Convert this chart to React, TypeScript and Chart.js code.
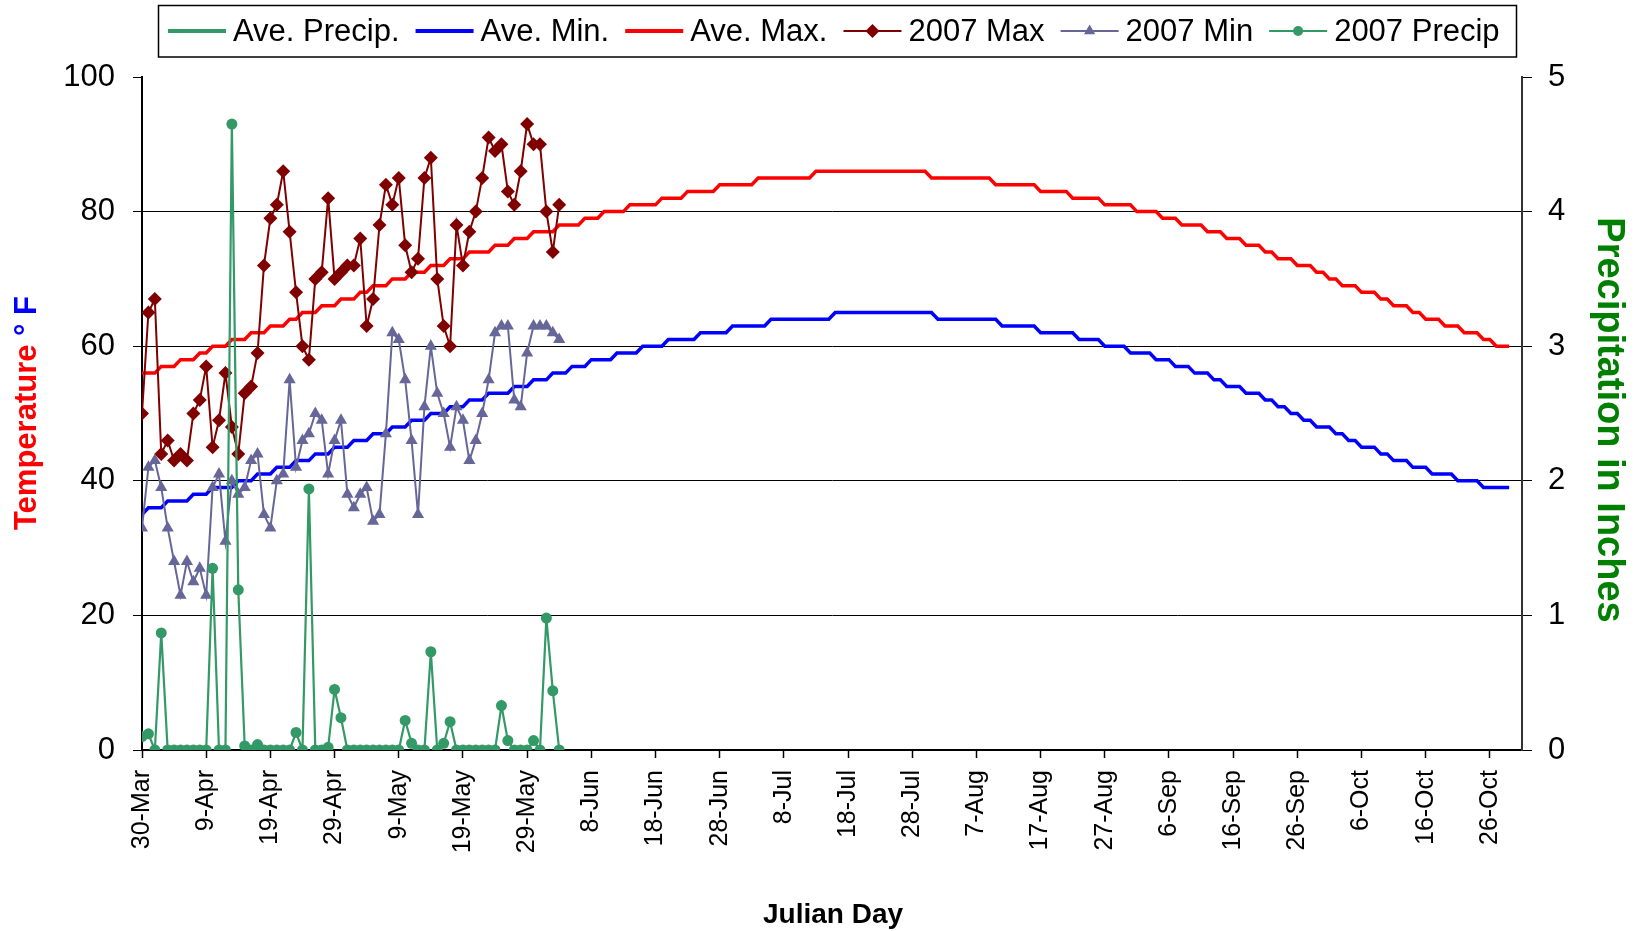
import React, { useEffect, useRef } from 'react';
import { Chart, registerables } from 'chart.js';

Chart.register(...registerables);

const FONT = "'Liberation Sans', Arial, sans-serif";

// x axis: day index 0 = 30-Mar, axis runs to day 215 (31-Oct)
const X_MAX_DAY = 215;
const TICK_LABELS = [
  '30-Mar', '9-Apr', '19-Apr', '29-Apr', '9-May', '19-May', '29-May', '8-Jun',
  '18-Jun', '28-Jun', '8-Jul', '18-Jul', '28-Jul', '7-Aug', '17-Aug', '27-Aug',
  '6-Sep', '16-Sep', '26-Sep', '6-Oct', '16-Oct', '26-Oct',
];

// Average curves read as [value °F, number of consecutive days]
const AVE_MAX_STEPS: [number, number][] = [
  [56, 3], [57, 3], [58, 3], [59, 2], [60, 3], [61, 3], [62, 3], [63, 3], [64, 2], [65, 3],
  [66, 3], [67, 3], [68, 2], [69, 3], [70, 3], [71, 3], [72, 3], [73, 3], [74, 4], [75, 3],
  [76, 3], [77, 4], [78, 4], [79, 3], [80, 4], [81, 5], [82, 4], [83, 5], [84, 6], [85, 9],
  [86, 18], [85, 10], [84, 7], [83, 5], [82, 5], [81, 5], [80, 4], [79, 3], [78, 4], [77, 3],
  [76, 3], [75, 3], [74, 2], [73, 3], [72, 3], [71, 2], [70, 2], [69, 3], [68, 3], [67, 2],
  [66, 3], [65, 2], [64, 3], [63, 3], [62, 3], [61, 2], [60, 3],
];

const AVE_MIN_STEPS: [number, number][] = [
  [35, 1], [36, 3], [37, 4], [38, 3], [39, 4], [40, 3], [41, 3], [42, 3], [43, 3], [44, 3],
  [45, 3], [46, 3], [47, 3], [48, 3], [49, 3], [50, 3], [51, 3], [52, 3], [53, 4], [54, 3],
  [55, 3], [56, 3], [57, 3], [58, 4], [59, 4], [60, 4], [61, 5], [62, 5], [63, 6], [64, 10],
  [65, 16], [64, 10], [63, 6], [62, 6], [61, 4], [60, 4], [59, 4], [58, 3], [57, 3], [56, 3],
  [55, 2], [54, 3], [53, 3], [52, 2], [51, 2], [50, 2], [49, 2], [48, 3], [47, 2], [46, 2],
  [45, 3], [44, 2], [43, 3], [42, 3], [41, 4], [40, 4], [39, 5],
];

const AVE_PRECIP: number[] = [];

const MAX_2007 = [
  50, 65, 67, 44, 46, 43, 44, 43, 50, 52, 57, 45, 49, 56, 48, 44, 53, 54, 59, 72,
  79, 81, 86, 77, 68, 60, 58, 70, 71, 82, 70, 71, 72, 72, 76, 63, 67, 78, 84, 81,
  85, 75, 71, 73, 85, 88, 70, 63, 60, 78, 72, 77, 80, 85, 91, 89, 90, 83, 81, 86,
  93, 90, 90, 80, 74, 81,
];

const MIN_2007 = [
  33, 42, 43, 39, 33, 28, 23, 28, 25, 27, 23, 39, 41, 31, 40, 38, 39, 43, 44, 35,
  33, 40, 41, 55, 42, 46, 47, 50, 49, 41, 46, 49, 38, 36, 38, 39, 34, 35, 47, 62,
  61, 55, 46, 35, 51, 60, 53, 50, 45, 51, 49, 43, 46, 50, 55, 62, 63, 63, 52, 51,
  59, 63, 63, 63, 62, 61,
];

const PRECIP_2007 = [
  0.10, 0.12, 0, 0.87, 0, 0, 0, 0, 0, 0, 0, 1.35, 0, 0, 4.65, 1.19, 0.03, 0, 0.04, 0,
  0, 0, 0, 0, 0.13, 0, 1.94, 0, 0, 0.02, 0.45, 0.24, 0, 0, 0, 0, 0, 0, 0, 0,
  0, 0.22, 0.05, 0, 0, 0.73, 0, 0.05, 0.21, 0, 0, 0, 0, 0, 0, 0, 0.33, 0.07, 0, 0,
  0, 0.07, 0, 0.98, 0.44, 0,
];

const C_PRECIP = '#339966';
const C_AMIN = '#0000FF';
const C_AMAX = '#FF0000';
const C_MAX07 = '#800000';
const C_MIN07 = '#666699';

const expandSteps = (steps: [number, number][]) =>
  steps.flatMap(([v, n]) => Array.from({ length: n }, () => v));
const toXY = (arr: number[]) => arr.map((y, x) => ({ x, y }));

type LegendItem = { label: string; color: string; width: number; marker: string | null; r: number };
const LEGEND: LegendItem[] = [
  { label: 'Ave. Precip.', color: C_PRECIP, width: 4, marker: null, r: 0 },
  { label: 'Ave. Min.', color: C_AMIN, width: 4, marker: null, r: 0 },
  { label: 'Ave. Max.', color: C_AMAX, width: 4, marker: null, r: 0 },
  { label: '2007 Max', color: C_MAX07, width: 2, marker: 'diamond', r: 7 },
  { label: '2007 Min', color: C_MIN07, width: 2, marker: 'triangle', r: 6.5 },
  { label: '2007 Precip', color: C_PRECIP, width: 2, marker: 'circle', r: 5 },
];

function drawMarker(ctx: CanvasRenderingContext2D, kind: string, x: number, y: number, r: number) {
  ctx.beginPath();
  if (kind === 'diamond') {
    ctx.moveTo(x - r, y); ctx.lineTo(x, y - r); ctx.lineTo(x + r, y); ctx.lineTo(x, y + r);
    ctx.closePath();
  } else if (kind === 'triangle') {
    ctx.moveTo(x, y - r); ctx.lineTo(x + 0.866 * r, y + 0.5 * r); ctx.lineTo(x - 0.866 * r, y + 0.5 * r);
    ctx.closePath();
  } else {
    ctx.arc(x, y, r, 0, Math.PI * 2);
  }
  ctx.fill();
}

const decorPlugin = {
  id: 'decor',
  afterDraw(chart: any) {
    const ctx: CanvasRenderingContext2D = chart.ctx;
    ctx.save();
    // Legend box
    ctx.fillStyle = '#ffffff';
    ctx.fillRect(158, 5, 1359, 52);
    ctx.strokeStyle = '#000000';
    ctx.lineWidth = 1.5;
    ctx.strokeRect(158.5, 5.5, 1358, 51.5);
    ctx.font = `31px ${FONT}`;
    ctx.textBaseline = 'middle';
    ctx.textAlign = 'left';
    let x = 168;
    const cy = 31;
    LEGEND.forEach((it) => {
      ctx.strokeStyle = it.color;
      ctx.lineWidth = it.width;
      ctx.beginPath();
      ctx.moveTo(x, cy);
      ctx.lineTo(x + 58, cy);
      ctx.stroke();
      if (it.marker) {
        ctx.fillStyle = it.color;
        drawMarker(ctx, it.marker, x + 29, cy, it.r);
      }
      x += 58 + 7;
      ctx.fillStyle = '#000000';
      ctx.fillText(it.label, x, cy + 1);
      x += ctx.measureText(it.label).width + 16;
    });

    // Left axis title (two colours)
    ctx.save();
    ctx.translate(36, 413);
    ctx.rotate(-Math.PI / 2);
    ctx.font = `bold 31px ${FONT}`;
    ctx.textBaseline = 'alphabetic';
    ctx.textAlign = 'left';
    const t1 = 'Temperature ';
    const t2 = '° F';
    const w1 = ctx.measureText(t1).width;
    const w2 = ctx.measureText(t2).width;
    const sx = -(w1 + w2) / 2;
    ctx.fillStyle = '#FF0000';
    ctx.fillText(t1, sx, 0);
    ctx.fillStyle = '#0000FF';
    ctx.fillText(t2, sx + w1, 0);
    ctx.restore();

    // Right axis title
    ctx.save();
    ctx.translate(1598, 420);
    ctx.rotate(Math.PI / 2);
    ctx.font = `bold 38px ${FONT}`;
    ctx.textBaseline = 'alphabetic';
    ctx.textAlign = 'center';
    ctx.fillStyle = '#008000';
    ctx.fillText('Precipitation in Inches', 0, 0);
    ctx.restore();

    // Bottom axis title
    ctx.font = `bold 28px ${FONT}`;
    ctx.textBaseline = 'alphabetic';
    ctx.textAlign = 'center';
    ctx.fillStyle = '#000000';
    ctx.fillText('Julian Day', 833, 923);
    ctx.restore();
  },
};

export default function App() {
  const canvasRef = useRef<HTMLCanvasElement | null>(null);

  useEffect(() => {
    document.body.style.margin = '0';
    const canvas = canvasRef.current;
    if (!canvas) return;
    const chart = new Chart(canvas, {
      type: 'line',
      data: {
        datasets: [
          {
            label: '2007 Precip', data: toXY(PRECIP_2007), yAxisID: 'y1',
            borderColor: C_PRECIP, backgroundColor: C_PRECIP, borderWidth: 2.2,
            pointStyle: 'circle', pointRadius: 5.5, pointBorderWidth: 0, tension: 0,
          },
          {
            label: '2007 Min', data: toXY(MIN_2007), yAxisID: 'y',
            borderColor: C_MIN07, backgroundColor: C_MIN07, borderWidth: 2,
            pointStyle: 'triangle', pointRadius: 7, pointBorderWidth: 0, tension: 0,
          },
          {
            label: '2007 Max', data: toXY(MAX_2007), yAxisID: 'y',
            borderColor: C_MAX07, backgroundColor: C_MAX07, borderWidth: 2,
            pointStyle: 'rectRot', pointRadius: 7, pointBorderWidth: 0, tension: 0,
          },
          {
            label: 'Ave. Max.', data: toXY(expandSteps(AVE_MAX_STEPS)), yAxisID: 'y',
            borderColor: C_AMAX, backgroundColor: C_AMAX, borderWidth: 3.5,
            pointRadius: 0, tension: 0,
          },
          {
            label: 'Ave. Min.', data: toXY(expandSteps(AVE_MIN_STEPS)), yAxisID: 'y',
            borderColor: C_AMIN, backgroundColor: C_AMIN, borderWidth: 3.5,
            pointRadius: 0, tension: 0,
          },
          {
            label: 'Ave. Precip.', data: toXY(AVE_PRECIP), yAxisID: 'y1',
            borderColor: C_PRECIP, backgroundColor: C_PRECIP, borderWidth: 3,
            pointRadius: 0, tension: 0,
          },
        ],
      },
      options: {
        responsive: false,
        animation: false,
        events: [],
        layout: { padding: { top: 77, left: 0, right: 0, bottom: 0 } },
        plugins: { legend: { display: false }, tooltip: { enabled: false } },
        scales: {
          x: {
            type: 'linear', min: 0, max: X_MAX_DAY,
            afterBuildTicks: (s: any) => {
              s.ticks = TICK_LABELS.map((_, i) => ({ value: i * 10 }));
            },
            afterFit: (s: any) => { s.height = 181; },
            ticks: {
              autoSkip: false, minRotation: 90, maxRotation: 90, padding: 12,
              color: '#000', font: { family: FONT, size: 25 },
              callback: (v: any) => TICK_LABELS[Math.round(Number(v) / 10)] ?? '',
            },
            grid: { drawOnChartArea: false, drawTicks: true, tickLength: 8, color: '#000', tickColor: '#000', tickWidth: 1.5 },
            border: { display: true, color: '#000', width: 2 },
          },
          y: {
            position: 'left', min: 0, max: 100,
            afterFit: (s: any) => { s.width = 142; },
            ticks: { stepSize: 20, padding: 18, color: '#000', font: { family: FONT, size: 31 } },
            grid: {
              color: (c: any) => (c.tick && (c.tick.value === 0 || c.tick.value === 100)) ? 'rgba(0,0,0,0)' : '#000',
              tickColor: '#000', lineWidth: 1, tickLength: 9,
            },
            border: { display: true, color: '#000', width: 2 },
          },
          y1: {
            position: 'right', min: 0, max: 5,
            afterFit: (s: any) => { s.width = 113; },
            ticks: { stepSize: 1, padding: 16, color: '#000', font: { family: FONT, size: 31 } },
            grid: { drawOnChartArea: false, tickLength: 10, color: '#000', tickColor: '#000' },
            border: { display: true, color: '#333', width: 2 },
          },
        },
      } as any,
      plugins: [decorPlugin],
    });
    return () => chart.destroy();
  }, []);

  return (
    <div style={{ position: 'absolute', left: 0, top: 0, width: 1635, height: 931, background: '#fff' }}>
      <canvas ref={canvasRef} width={1635} height={931} style={{ display: 'block', width: 1635, height: 931 }} />
    </div>
  );
}
